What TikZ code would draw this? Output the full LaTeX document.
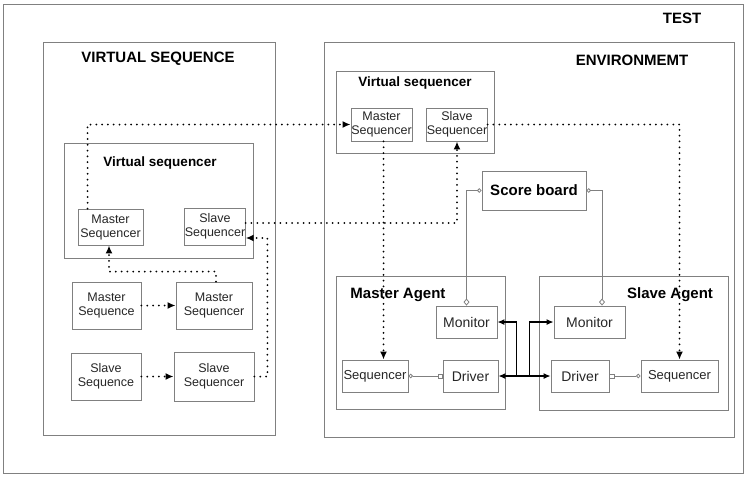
\documentclass[tikz,border=0pt]{standalone}
\usepackage{fontspec}
\setmainfont{Liberation Sans}
\usetikzlibrary{arrows.meta}
\definecolor{framegray}{HTML}{808080}
\begin{document}
\begin{tikzpicture}[x=1pt,y=-1pt,
  frame/.style={draw=framegray,line width=.9pt},
  box/.style={frame,inner sep=0pt,align=center,text=black!85,font=\fontsize{12.5}{14}\selectfont},
  title/.style={font=\bfseries\fontsize{15}{17}\selectfont},
  subtitle/.style={font=\bfseries\fontsize{13.5}{15}\selectfont},
  dotarrow/.style={line width=2pt,line cap=round,dash pattern=on 0pt off 5.8pt,-{Latex[length=8pt,width=7pt]}},
  link/.style={draw=framegray,line width=.8pt},
  bus/.style={line width=1.2pt,>={Latex[length=7pt,width=6pt]}}]
\useasboundingbox (0,0) rectangle (749,482);
% frames
\draw[frame] (3,4) rectangle (743,473);
\draw[frame] (43,42) rectangle (275,435);
\draw[frame] (64,143) rectangle (253,258);
\draw[frame] (324,42) rectangle (734,437);
\draw[frame] (336,71) rectangle (494,153);
\draw[frame] (336,276) rectangle (505,409);
\draw[frame] (539,276) rectangle (728,410);
\node[title] (ttest) at (682,18) {TEST};
\node[title] (tvseq) at (158,59) {VIRTUAL SEQUENCE};
\node[subtitle] (tlvsqr) at (160,163) {Virtual sequencer};
\node[title] (tenv) at (632,60) {ENVIRONMEMT};
\node[subtitle] (tevsqr) at (415,83) {Virtual sequencer};
\node[title] (tmagt) at (398,295) {Master Agent};
\node[title] (tsagt) at (670,295) {Slave Agent};
% left side
\node[box,minimum width=65pt,minimum height=36pt] (lmseqr) at (110.5,227) {Master\\Sequencer};
\node[box,minimum width=60pt,minimum height=37pt] (lsseqr) at (215,226.5) {Slave\\Sequencer};
\node[box,minimum width=69pt,minimum height=47pt] (mseq) at (106.5,305.5) {Master\\Sequence};
\node[box,minimum width=76pt,minimum height=47pt] (lmser) at (214,305.5) {Master\\Sequencer};
\node[box,minimum width=70pt,minimum height=47pt] (sseq) at (106,376.5) {Slave\\Sequence};
\node[box,minimum width=80pt,minimum height=49pt] (lsser) at (214,376.5) {Slave\\Sequencer};
% environment
\node[box,minimum width=61pt,minimum height=33pt] (emseqr) at (381.5,124.5) {Master\\Sequencer};
\node[box,minimum width=60pt,minimum height=33pt] (esseqr) at (457,124.5) {Slave\\Sequencer};
\node[box,minimum width=104pt,minimum height=39pt,font=\bfseries\fontsize{15}{17}\selectfont,text=black] (score) at (534,190.5) {Score board};
\node[box,minimum width=61pt,minimum height=32pt,font=\fontsize{14}{16}\selectfont] (mmon) at (466.5,322) {Monitor};
\node[box,minimum width=66pt,minimum height=32pt,font=\fontsize{13}{15}\selectfont] (msqr) at (375,376) {Sequencer};
\node[box,minimum width=55pt,minimum height=32pt,font=\fontsize{14}{16}\selectfont] (mdrv) at (470.5,376) {Driver};
\node[box,minimum width=71pt,minimum height=32pt,font=\fontsize{14}{16}\selectfont] (smon) at (589.5,322) {Monitor};
\node[box,minimum width=58pt,minimum height=32pt,font=\fontsize{14}{16}\selectfont] (sdrv) at (580,376) {Driver};
\node[box,minimum width=77pt,minimum height=32pt,font=\fontsize{13}{15}\selectfont] (ssqr) at (679.5,376) {Sequencer};
% dotted flows
\draw[dotarrow] (mseq) -- (lmser);
\draw[dotarrow] (sseq) -- (lsser);
\draw[dotarrow] ([xshift=2pt]lmser.north) -- ++(0,-10) -| ([xshift=-1.5pt]lmseqr.south);
\draw[dotarrow] (lsser.east) -- ++(13,0) |- ([yshift=-11.5pt]lsseqr.east);
\draw[dotarrow] ([xshift=10pt]lmseqr.north west) |- (emseqr);
\draw[dotarrow] ([yshift=3.5pt]lsseqr.east) -| (esseqr.south);
\draw[dotarrow] ([xshift=2pt]emseqr.south) -- ([xshift=2pt]emseqr.south |- msqr.north);
\draw[dotarrow] (esseqr) -| (ssqr);
% score board links
\draw[link,{Circle[open,length=4.5pt]}-{Diamond[open,length=7pt,width=6pt]}] (score.west) -| (mmon);
\draw[link,{Circle[open,length=4.5pt]}-{Diamond[open,length=7pt,width=6pt]}] (score.east) -| ([xshift=12.5pt]smon.north);
\draw[link,{Circle[open,length=4.5pt]}-{Square[open,length=5pt,width=5pt]}] (msqr) -- (mdrv);
\draw[link,{Square[open,length=5pt,width=5pt]}-{Circle[open,length=4.5pt]}] (sdrv) -- (ssqr);
% agent bus
\coordinate (busA) at ([xshift=18pt]mdrv.east);
\coordinate (busB) at ([xshift=31pt]mdrv.east);
\draw[bus,<->] (mdrv) -- (sdrv);
\draw[bus,->] (busA) |- (mmon);
\draw[bus,->] (busB) |- (smon);
\end{tikzpicture}
\end{document}
